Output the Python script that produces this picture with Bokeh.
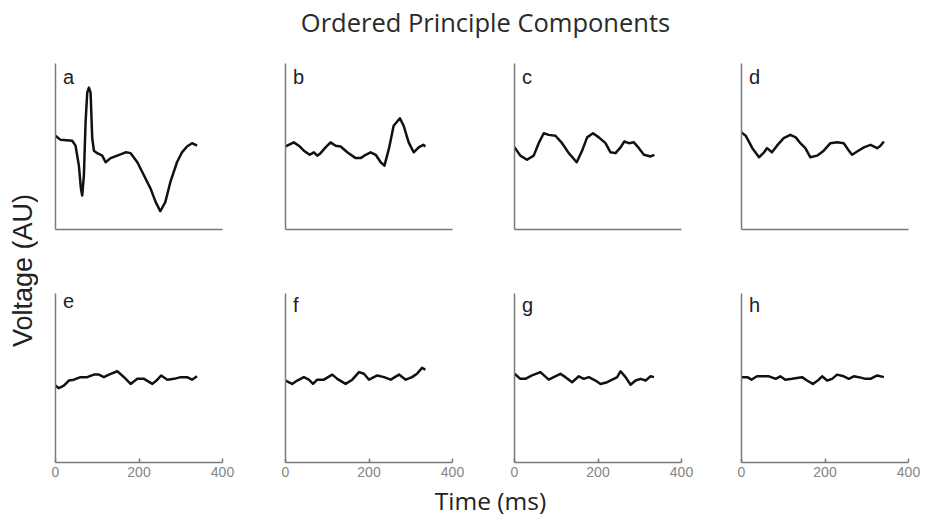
from math import pi
from bokeh.plotting import figure
from bokeh.layouts import row, column
from bokeh.models import Range1d, FixedTicker, Label
from bokeh.embed import file_html
from bokeh.resources import INLINE

# ---------------- data ----------------
title_text = "Ordered Principle Components"
x_label_text = "Time (ms)"
y_label_text = "Voltage (AU)"
panel_letters = ["a", "b", "c", "d", "e", "f", "g", "h"]
x_ticks = [0, 200, 400]
x_tick_labels = ["0", "200", "400"]

t_a = [0, 12, 40, 48, 56, 61, 64, 68, 72, 76, 80, 84, 88, 92, 100, 112, 120, 132, 148, 168, 180, 196, 212, 228,
       240, 251, 263, 275, 291, 303, 315, 327, 339]
v_a = [0.13, 0.08, 0.07, 0.01, -0.23, -0.51, -0.59, -0.35, 0.29, 0.65, 0.71, 0.65, 0.10, -0.05, -0.08, -0.11,
       -0.19, -0.14, -0.11, -0.07, -0.08, -0.19, -0.35, -0.51, -0.67, -0.78, -0.67, -0.43, -0.19, -0.07, 0.00,
       0.04, 0.01]

t_b = [0, 20, 32, 44, 58, 68, 76, 84, 96, 108, 120, 132, 148, 168, 180, 192, 204, 216, 228, 237, 248, 259, 274,
       283, 295, 307, 319, 330, 335]
v_b = [0.00, 0.05, 0.01, -0.05, -0.10, -0.07, -0.11, -0.08, -0.01, 0.05, 0.01, 0.00, -0.07, -0.14, -0.14, -0.10,
       -0.07, -0.10, -0.19, -0.23, -0.02, 0.25, 0.34, 0.25, 0.05, -0.07, -0.01, 0.02, 0.00]

t_c = [0, 14, 30, 46, 58, 70, 82, 98, 114, 130, 149, 162, 174, 188, 202, 218, 230, 242, 254, 263, 274, 286, 298,
       310, 326, 335]
v_c = [-0.01, -0.11, -0.16, -0.11, 0.04, 0.16, 0.14, 0.13, 0.04, -0.08, -0.19, -0.05, 0.11, 0.16, 0.11, 0.04,
       -0.07, -0.08, -0.01, 0.06, 0.04, 0.05, -0.02, -0.10, -0.12, -0.10]

t_d = [0, 10, 26, 42, 54, 61, 73, 85, 101, 117, 130, 141, 153, 165, 181, 197, 213, 229, 245, 257, 265, 277, 293,
       309, 325, 333, 341]
v_d = [0.17, 0.13, -0.02, -0.13, -0.07, -0.02, -0.07, 0.01, 0.10, 0.14, 0.11, 0.04, -0.02, -0.13, -0.11, -0.05,
       0.04, 0.05, 0.04, -0.05, -0.10, -0.06, -0.01, 0.02, -0.02, 0.01, 0.06]

t_e = [0, 8, 20, 32, 44, 60, 76, 92, 104, 116, 128, 148, 164, 180, 196, 212, 232, 244, 253, 268, 284, 300, 315,
       327, 339]
v_e = [-0.09, -0.12, -0.09, -0.03, -0.02, 0.01, 0.01, 0.04, 0.04, 0.01, 0.04, 0.08, 0.01, -0.07, -0.01, -0.01,
       -0.07, -0.02, 0.03, -0.02, -0.01, 0.01, 0.01, -0.02, 0.02]

t_f = [0, 16, 28, 44, 56, 66, 76, 92, 112, 124, 144, 160, 176, 188, 200, 220, 236, 252, 272, 288, 303, 315, 327,
       335]
v_f = [-0.03, -0.07, -0.03, 0.01, -0.02, -0.07, -0.02, -0.02, 0.04, -0.01, -0.07, -0.02, 0.07, 0.05, -0.02, 0.03,
       0.01, -0.02, 0.04, -0.02, 0.01, 0.05, 0.12, 0.10]

t_g = [0, 14, 26, 42, 62, 82, 94, 110, 122, 138, 154, 166, 178, 194, 206, 222, 238, 246, 254, 266, 278, 290, 302,
       314, 326, 334]
v_g = [0.05, -0.01, -0.01, 0.03, 0.07, -0.02, 0.01, 0.05, 0.01, -0.05, 0.02, -0.01, 0.01, -0.03, -0.07, -0.05,
       -0.01, 0.01, 0.08, 0.01, -0.08, -0.03, -0.01, -0.03, 0.02, 0.01]

t_h = [0, 14, 24, 37, 66, 82, 93, 105, 121, 145, 157, 171, 185, 193, 205, 217, 229, 245, 257, 269, 281, 297, 309,
       325, 341]
v_h = [0.01, 0.01, -0.02, 0.02, 0.02, -0.01, 0.02, -0.02, -0.01, 0.01, -0.03, -0.07, -0.02, 0.02, -0.03, -0.01,
       0.04, 0.02, -0.01, 0.02, 0.01, -0.01, -0.01, 0.03, 0.01]

series = [(t_a, v_a), (t_b, v_b), (t_c, v_c), (t_d, v_d),
          (t_e, v_e), (t_f, v_f), (t_g, v_g), (t_h, v_h)]

# ---------------- styling / layout ----------------
AXIS_COLOR = "#7a7a7a"
TEXT_COLOR = "#222222"
FRAME_W = 167
LEFTS = [17, 23, 22, 20]
RIGHTS = [40, 40, 40, 13]
YLAB_W = 38
TOTAL_W = YLAB_W + sum(LEFTS) + sum(RIGHTS) + 4 * FRAME_W
TITLE_H = 48
ROW1_H = 15 + 166 + 10
ROW2_H = 54 + 169 + 21
XLAB_TOP = TITLE_H + ROW1_H + ROW2_H
XLAB_H = 40


def blank_fig(w, h):
    f = figure(width=w, height=h, output_backend="svg", toolbar_location=None, tools="",
               x_range=Range1d(0, 1), y_range=Range1d(0, 1),
               x_axis_location=None, y_axis_location=None,
               min_border=0, outline_line_color=None)
    f.grid.visible = False
    return f


def panel(i, t, v):
    bottom = i >= 4
    col = i % 4
    p = figure(output_backend="svg", toolbar_location=None, tools="",
               frame_width=FRAME_W, frame_height=169 if bottom else 166,
               x_range=Range1d(0, 400), y_range=Range1d(-1, 1),
               min_border_left=LEFTS[col], min_border_right=RIGHTS[col],
               min_border_top=54 if bottom else 15,
               min_border_bottom=21 if bottom else 10,
               outline_line_color=None)
    p.grid.visible = False
    p.line(t, v, line_color="#111111", line_width=2.5, line_join="round")

    xa = p.xaxis[0]
    xa.axis_line_color = AXIS_COLOR
    xa.axis_line_width = 1.5
    xa.minor_tick_line_color = None
    if bottom:
        xa.ticker = FixedTicker(ticks=x_ticks)
        xa.major_label_overrides = {k: s for k, s in zip(x_ticks, x_tick_labels)}
        xa.major_tick_in = 4
        xa.major_tick_out = 0
        xa.major_tick_line_color = AXIS_COLOR
        xa.major_tick_line_width = 1.5
        xa.major_label_text_font = "Liberation Sans"
        xa.major_label_text_font_size = "14px"
        xa.major_label_text_color = "#858585"
        xa.major_label_standoff = 4
    else:
        xa.ticker = FixedTicker(ticks=[])
        xa.major_tick_line_color = None

    ya = p.yaxis[0]
    ya.ticker = FixedTicker(ticks=[])
    ya.axis_line_color = AXIS_COLOR
    ya.axis_line_width = 1.5
    ya.major_tick_line_color = None
    ya.minor_tick_line_color = None

    p.add_layout(Label(x=18, y=1.0 if bottom else 0.965, text=panel_letters[i],
                       text_align="left", text_baseline="top",
                       text_font="Liberation Sans", text_font_size="20px",
                       text_color=TEXT_COLOR))
    return p


panels = [panel(i, t, v) for i, (t, v) in enumerate(series)]

title_fig = blank_fig(TOTAL_W, TITLE_H)
title_fig.add_layout(Label(x=485 / TOTAL_W, y=1 - 21 / TITLE_H, text=title_text, text_align="center",
                           text_baseline="middle", text_font="Open Sans",
                           text_font_size="25.5px", text_color="#2a2a2a"))

ylab_fig = blank_fig(YLAB_W, ROW1_H + ROW2_H)
ylab_fig.add_layout(Label(x=22 / YLAB_W, y=1 - (270 - TITLE_H) / (ROW1_H + ROW2_H), text=y_label_text,
                          angle=pi / 2, text_align="center", text_baseline="middle",
                          text_font="Liberation Sans", text_font_size="27px",
                          text_color=TEXT_COLOR))

xlab_fig = blank_fig(TOTAL_W, XLAB_H)
xlab_fig.add_layout(Label(x=490 / TOTAL_W, y=1 - (500 - XLAB_TOP) / XLAB_H, text=x_label_text,
                          text_align="center", text_baseline="middle", text_font="Open Sans",
                          text_font_size="24.5px", text_color=TEXT_COLOR))

grid = column(row(*panels[:4]), row(*panels[4:]))
layout = column(title_fig, row(ylab_fig, grid), xlab_fig)

open("out.html", "w").write(file_html(layout, INLINE))
